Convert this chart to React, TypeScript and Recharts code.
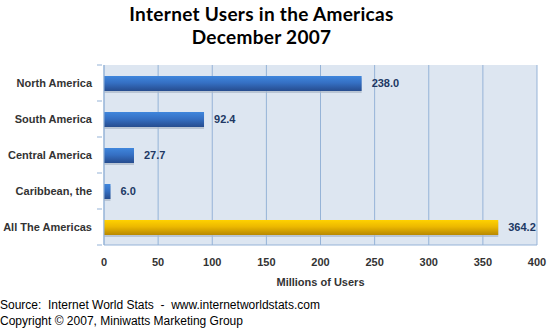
import React from 'react';
import { BarChart, Bar, XAxis, YAxis, CartesianGrid, LabelList, Cell } from 'recharts';

const regions = ['North America', 'South America', 'Central America', 'Caribbean, the', 'All The Americas'];
const users = [238.0, 92.4, 27.7, 6.0, 364.2];
const xTicks = [0, 50, 100, 150, 200, 250, 300, 350, 400];

const data = regions.map((name, i) => ({ name, users: users[i] }));

const GRID = '#95b3d7';
const LABEL_FONT = "'Liberation Sans', Arial, sans-serif";

const ShadedBar = (props: any) => {
  const { x, y, width, height, fill } = props;
  if (!width || width <= 0) return null;
  return (
    <g>
      <rect x={x} y={y + 2} width={width} height={height} fill="#aab6c8" opacity={0.7} />
      <rect x={x} y={y} width={width} height={height} fill={fill} />
    </g>
  );
};

const RegionTick = (props: any) => {
  const { x, y, payload, index } = props;
  const half = 18; // half of a category band
  return (
    <g>
      <line x1={x + 1} x2={x + 6} y1={y - half} y2={y - half} stroke={GRID} />
      {index === regions.length - 1 && (
        <line x1={x + 1} x2={x + 6} y1={y + half} y2={y + half} stroke={GRID} />
      )}
      <text x={x - 4} y={y} dy="0.35em" textAnchor="end" fontFamily={LABEL_FONT} fontWeight="bold" fontSize={11} fill="#333333">
        {payload.value}
      </text>
    </g>
  );
};

const titleStyle: React.CSSProperties = {
  position: 'absolute',
  left: 0,
  width: 523,
  textAlign: 'center',
  fontFamily: "Lato, sans-serif",
  fontWeight: 700,
  fontSize: 19,
  lineHeight: '22px',
  color: '#000',
  letterSpacing: 0.3,
};

export default function App() {
  return (
    <div style={{ position: 'relative', width: 550, height: 329, background: '#ffffff', fontFamily: LABEL_FONT }}>
      <style>{'body{margin:0}'}</style>
      <div style={{ ...titleStyle, top: 3 }}>Internet Users in the Americas</div>
      <div style={{ ...titleStyle, top: 26 }}>December 2007</div>
      <div style={{ position: 'absolute', left: 0, top: 0 }}>
        <BarChart
          width={550}
          height={329}
          data={data}
          layout="vertical"
          margin={{ top: 65, right: 13, left: 0, bottom: 54 }}
          barCategoryGap={0}
        >
          <defs>
            <linearGradient id="blueG" x1="0" y1="0" x2="0" y2="1">
              <stop offset="0%" stopColor="#3f86dc" />
              <stop offset="45%" stopColor="#3570c4" />
              <stop offset="100%" stopColor="#264c8e" />
            </linearGradient>
            <linearGradient id="goldG" x1="0" y1="0" x2="0" y2="1">
              <stop offset="0%" stopColor="#ffd200" />
              <stop offset="45%" stopColor="#ecb800" />
              <stop offset="100%" stopColor="#b88800" />
            </linearGradient>
          </defs>
          <CartesianGrid horizontal={false} vertical stroke={GRID} fill="#dde6f1" />
          <XAxis
            type="number"
            domain={[0, 400]}
            ticks={xTicks}
            interval={0}
            tickLine={false}
            axisLine={{ stroke: GRID }}
            tickMargin={7}
            height={30}
            tick={{ fontFamily: LABEL_FONT, fontWeight: 'bold', fontSize: 11, fill: '#333333' }}
          />
          <YAxis
            type="category"
            dataKey="name"
            width={104}
            tickLine={false}
            axisLine={{ stroke: GRID }}
            tick={<RegionTick />}
          />
          <Bar dataKey="users" barSize={15} shape={<ShadedBar />} isAnimationActive={false}>
            {data.map((d, i) => (
              <Cell key={d.name} fill={i === data.length - 1 ? 'url(#goldG)' : 'url(#blueG)'} />
            ))}
            <LabelList
              dataKey="users"
              position="right"
              offset={10}
              formatter={(v: any) => Number(v).toFixed(1)}
              style={{ fontFamily: LABEL_FONT, fontWeight: 'bold', fontSize: 11, fill: '#203864' }}
            />
          </Bar>
        </BarChart>
      </div>
      <div style={{ position: 'absolute', left: 104, width: 433, top: 276, textAlign: 'center', fontWeight: 'bold', fontSize: 11, color: '#333333' }}>
        Millions of Users
      </div>
      <div style={{ position: 'absolute', left: 0, top: 297, fontSize: 12, lineHeight: '16px', color: '#000' }}>
        Source:&nbsp; Internet World Stats&nbsp; -&nbsp; www.internetworldstats.com<br />
        Copyright © 2007, Miniwatts Marketing Group
      </div>
    </div>
  );
}
